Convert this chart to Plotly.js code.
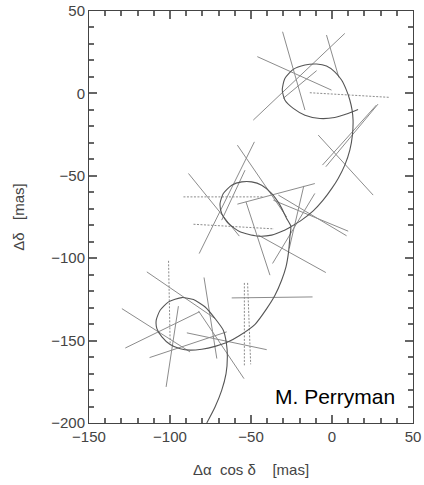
<!DOCTYPE html>
<html>
<head>
<meta charset="utf-8">
<script src="https://cdn.plot.ly/plotly-3.0.1.min.js"></script>
<style>html,body{margin:0;padding:0;background:#fff;}#chart{width:424px;height:485px;}</style>
</head>
<body>
<div id="chart"></div>
<script>
// Apparent path of the star (parallax + proper motion), in mas
var pathX = [-77.3,-72.2,-68.1,-65.4,-64.6,-65.2,-67.1,-72.2,-78.3,-85.5,-92.7,-100.9,-106.1,-108.5,-108.1,-105.0,-99.9,-93.7,-87.6,-80.4,-72.2,-65.0,-57.5,-47.5,-40.3,-35.2,-31.1,-28.4,-26.8,-26.0,-25.4,-28.0,-32.1,-37.3,-43.4,-49.6,-55.7,-61.9,-67.1,-69.1,-68.1,-64.0,-56.8,-46.5,-37.3,-30.1,-24.9,-18.8,-11.6,-5.5,0.0,3.8,7.9,11.0,12.6,13.0,12.4,11.0,8.9,5.9,1.7,-3.4,-9.5,-16.7,-23.9,-29.1,-30.7,-29.1,-23.9,-16.7,-7.5,1.7,8.9,16.1];
var pathY = [-200.0,-190.3,-180.2,-170.0,-159.9,-151.5,-143.7,-136.6,-129.6,-125.1,-123.9,-126.5,-131.6,-137.6,-142.7,-147.8,-152.4,-155.0,-155.8,-155.2,-153.5,-151.2,-147.2,-140.1,-130.6,-122.5,-113.4,-105.3,-96.2,-87.1,-80.6,-75.9,-67.8,-60.7,-55.7,-53.7,-53.7,-55.7,-60.7,-66.8,-72.9,-78.9,-84.0,-86.5,-86.0,-83.4,-80.6,-76.9,-71.3,-64.8,-57.5,-51.6,-43.5,-34.4,-25.3,-16.2,-10.1,-4.0,2.0,8.1,13.1,16.6,17.8,17.2,14.6,9.1,2.0,-4.0,-9.1,-13.2,-15.2,-14.6,-12.5,-9.7];

// Scan great-circle segments (solid), endpoints in mas
var scanX0 = [-30.5,-46.1,-48.6,-30.1,-3.4,-5.9,-3.8,-8.5,-58.4,-47.9,-88.6,-58.4,-53.1,-36.2,-33.1,-45.5,-17.4,-10.6,-53.7,-94.8,-114.3,-82.4,-129.7,-127.6,-112.6,-89.6,-79.0,-61.9];
var scanY0 = [37.4,22.3,-16.2,-3.0,35.4,-43.5,-44.5,-25.3,-31.4,-29.4,-48.6,-67.2,-65.8,-64.8,-61.7,-86.0,-56.1,-60.7,-46.6,-129.1,-108.3,-132.0,-130.6,-154.5,-160.3,-145.3,-111.7,-124.1];
var scanX1 = [-16.7,-0.3,7.9,-9.5,4.2,27.4,28.4,25.4,-28.0,-82.0,-57.2,-10.6,-38.3,10.0,9.0,-3.8,-26.4,-36.7,-68.1,-102.4,-72.2,-54.3,-87.6,-82.0,-65.0,-40.3,-71.1,-12.0];
var scanY1 = [-10.1,2.0,36.4,13.8,9.7,-7.1,-6.5,-61.7,-75.0,-97.2,-86.6,-54.7,-110.3,-83.6,-86.4,-108.7,-94.1,-103.2,-76.9,-178.1,-136.6,-173.1,-156.9,-132.6,-144.7,-155.5,-160.9,-123.5];

// Scan segments drawn dotted (grainy)
var dotX0 = [-13.7,-91.7,-85.5,-100.9,-54.1,-52.1];
var dotY0 = [0.4,-62.8,-79.4,-101.6,-115.0,-115.0];
var dotX1 = [35.6,-42.4,-35.8,-99.9,-54.1,-50.2];
var dotY1 = [-2.4,-62.8,-82.2,-151.8,-165.0,-164.4];

function segs(x0,y0,x1,y1){
  var xs=[],ys=[];
  for(var i=0;i<x0.length;i++){xs.push(x0[i],x1[i],null);ys.push(y0[i],y1[i],null);}
  return {x:xs,y:ys};
}
var s = segs(scanX0,scanY0,scanX1,scanY1);
var d = segs(dotX0,dotY0,dotX1,dotY1);

var traces = [
  {x:s.x,y:s.y,mode:'lines',type:'scatter',line:{color:'#8c8c8c',width:1},hoverinfo:'skip',showlegend:false},
  {x:d.x,y:d.y,mode:'lines',type:'scatter',line:{color:'#8c8c8c',width:1,dash:'2px,1.5px'},hoverinfo:'skip',showlegend:false},
  {x:pathX,y:pathY,mode:'lines',type:'scatter',line:{color:'#555',width:1.1,shape:'spline',smoothing:0.6},hoverinfo:'skip',showlegend:false}
];

var axisFont = {family:'Liberation Sans, Arial, sans-serif',size:15,color:'#444'};
function axis(range, titleText, standoff){
  return {range:range,dtick:50,ticks:'inside',ticklen:8,tickcolor:'#666',tickwidth:2,
    minor:{dtick:10,ticks:'inside',ticklen:5,tickcolor:'#666'},
    showgrid:false,zeroline:false,showline:true,mirror:'ticks',
    tickfont:axisFont,
    title:{text:titleText,font:axisFont,standoff:standoff}};
}
var layout = {
  width:424,height:485,
  margin:{l:89,r:11,t:11,b:62},
  showlegend:false,
  xaxis:axis([-150,50],'\u0394\u03b1\u00a0\u00a0cos\u00a0\u03b4\u00a0\u00a0\u00a0\u00a0[mas]',20),
  yaxis:axis([-200,50],'\u0394\u03b4\u00a0\u00a0\u00a0[mas]',22),
  annotations:[{text:'M. Perryman',xref:'x',yref:'y',x:2,y:-184,showarrow:false,
    font:{family:'Liberation Sans, Arial, sans-serif',size:21,color:'#000'}}]
};
Plotly.newPlot('chart',traces,layout,{displayModeBar:false});
</script>
</body>
</html>
